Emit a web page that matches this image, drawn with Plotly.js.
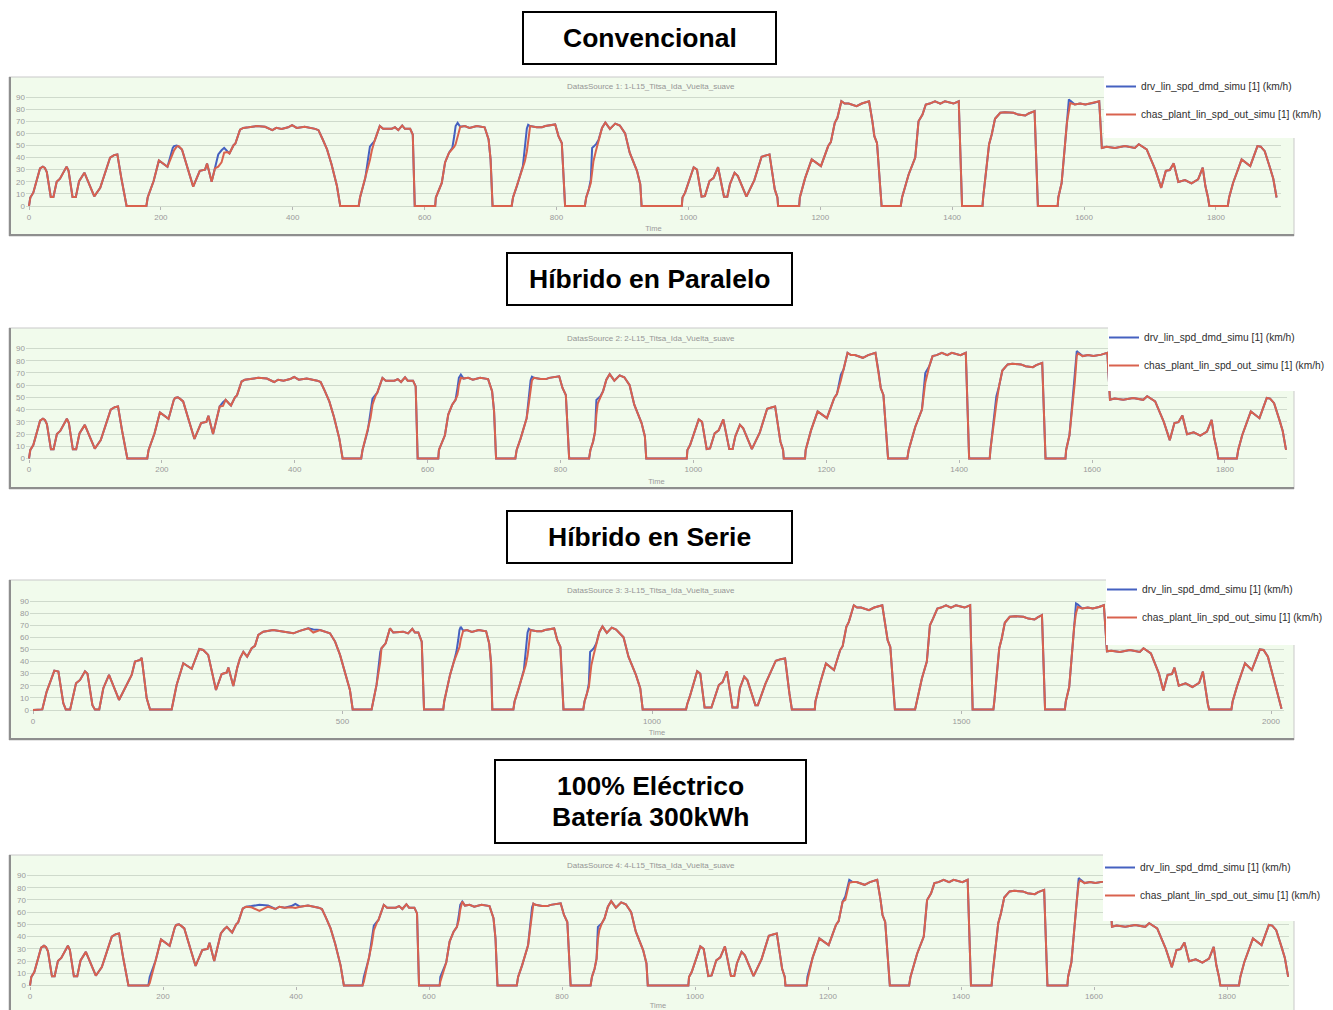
<!DOCTYPE html>
<html><head><meta charset="utf-8">
<script src="https://cdn.plot.ly/plotly-3.0.1.min.js"></script>
<style>html,body{margin:0;padding:0;background:#fff;}#chart{width:1333px;height:1010px;}</style>
</head><body><div id="chart"></div>
<script>
// ---- shared cycle time (s) for panels 1, 2 and 4 ----
const timeS = [0,2,6.5,16.7,21,24,27,33,37,42,47,57,60,66,71,76,84,99,108,123,129,134,140,145,148,178,180,189,197,210,218,220,224,227,232,249,259,267,270,277,282,287,292,296,301,304,310,313,320,325,333,345,358,369,375,383,393,399,406,418,434,439,445,452,459,467,472,500,502,510,514,517,520,522,524,532,537,550,555,560,566,570,578,582,585,616,617,626,631,637,642,645,647,650,654,661,668,679,691,697,700,703,732,734,740,749,752,755,757,760,770,778,783,798,803,808,813,843,845,849,852,854,856,860,864,869,874,881,889,896,904,911,922,927,929,990,991,995,1008,1013,1020,1025,1032,1038,1045,1054,1059,1063,1070,1075,1088,1100,1111,1118,1123,1131,1135,1136,1168,1169,1177,1187,1201,1212,1216,1222,1226,1232,1237,1243,1255,1263,1274,1279,1282,1286,1293,1322,1324,1334,1344,1349,1355,1360,1366,1374,1382,1389,1394,1402,1410,1415,1446,1447,1456,1460,1465,1473,1480,1493,1500,1511,1516,1525,1530,1560,1561,1566,1574,1577,1579,1586,1594,1602,1614,1623,1627,1634,1647,1662,1677,1683,1695,1708,1717,1724,1730,1736,1743,1753,1763,1773,1780,1784,1788,1790,1818,1820,1826,1839,1852,1863,1868,1874,1882,1887,1892];

// driver speed demand (km/h), same cycle in panels 1, 2, 4
const demandS = [0,7,11,31,32.5,31.5,28,7.5,7.5,20,22.5,32.5,29,7.5,7.5,20.5,27.5,8,15,40,42,42.6,23,8,0,0,7,20.6,37.6,32.4,48,49.5,50,49,46.7,16,29,30,35,20,32,42.6,46,48,45,43.4,50,51.6,63,64.5,65,66,65.4,62.6,64.5,63.7,65,66.7,64.5,65.4,63.7,62.6,55.5,46.7,34,16.5,0,0,7,23,38,49,51,52,53.6,66,63.7,63.7,65,62.6,66.5,63.7,63.7,59,0,0,7,19,36,44,48,58,66,68.7,65.4,66,64.5,66,65,55,38.5,0,0,7,16.5,33,52,64,67,66,65,65,66,67.3,57.7,52,0,0,7,13.7,22,48,49,51,55,64.5,69,63.7,68,66.5,60,44,29,18,0,0,7,11,32,30,7.7,8.2,20.6,23,32,7.7,7.7,18,27.5,24.7,7.7,21.4,40.7,42,42.6,13.7,7,0,0,7,23,38.5,33,49.5,52.7,68.7,72.8,86.5,84.6,84.6,82.4,84.6,86.5,70,57.7,52,0,0,7,26,40,70,75.5,83.8,84.6,86.5,84.6,86.5,85.7,84.6,86.5,0,0,7,51,59,72,77,77.5,77,75.5,74.7,76.4,78.3,0,0,7,19,68.7,88,87,83.8,84.6,83.8,85,86.5,48,49,48,49.5,48,51,46.7,30,15,29,29.7,35.2,19.8,21.4,18.7,22,31.6,16.5,7,0,0,7,19,38.5,33,49.5,49,45.3,31.6,22.5,7];

// vehicle speed (km/h) - Convencional
const speedConv = [0,7,11,31,32.5,31.5,28,7.5,7.5,20,22.5,32.5,29,7.5,7.5,20.5,27.5,8,15,40,42,42.6,23,8,0,0,7,20.6,37.6,32.4,44,46,49,49.5,46.7,16,29,30,35,20,31,32.5,36,44,44.5,43.4,50,51.6,63,64.5,65,66,65.4,62.6,64.5,63.7,65,66.7,64.5,65.4,63.7,62.6,55.5,46.7,34,16.5,0,0,7,23,32,38,46,49,53.6,66,63.7,63.7,65,62.6,66.5,63.7,63.7,59,0,0,7,19,36,44,46.7,49,51,58,65.4,66,64.5,66,65,55,38.5,0,0,7,16.5,31,37,45,52,66,65,65,66,67.3,57.7,52,0,0,7,13.7,19,28,37,46,55,64.5,69,63.7,68,66.5,60,44,29,18,0,0,7,11,32,30,7.7,8.2,20.6,23,32,7.7,7.7,18,27.5,24.7,7.7,21.4,40.7,42,42.6,13.7,7,0,0,7,23,38.5,33,49.5,52.7,68.7,72.8,86.5,84.6,84.6,82.4,84.6,86.5,70,57.7,52,0,0,7,26,40,70,75.5,83.8,84.6,86.5,84.6,86.5,85.7,84.6,86.5,0,0,7,51,59,72,77,77.5,77,75.5,74.7,76.4,78.3,0,0,7,19,68.7,80,85,83.8,84.6,83.8,85,86.5,48,49,48,49.5,48,51,46.7,30,15,29,29.7,35.2,19.8,21.4,18.7,22,31.6,16.5,7,0,0,7,19,38.5,33,49.5,49,45.3,31.6,22.5,7];

// vehicle speed (km/h) - Híbrido en Paralelo
const speedParallel = [0,7,11,31,32.5,31.5,28,7.5,7.5,20,22.5,32.5,29,7.5,7.5,20.5,27.5,8,15,40,42,42.6,23,8,0,0,7,20.6,37.6,32.4,48,49.5,50,49,46.7,16,29,30,35,20,32,42.6,43,48,45,43.4,50,51.6,63,64.5,65,66,65.4,62.6,64.5,63.7,65,66.7,64.5,65.4,63.7,62.6,55.5,46.7,34,16.5,0,0,7,23,33,44,50,52,53.6,66,63.7,63.7,65,62.6,66.5,63.7,63.7,59,0,0,7,19,36,44,48,52,60,66,65.4,66,64.5,66,65,55,38.5,0,0,7,16.5,33,44,58,64,66,65,65,66,67.3,57.7,52,0,0,7,13.7,22,36,45,50,55,64.5,69,63.7,68,66.5,60,44,29,18,0,0,7,11,32,30,7.7,8.2,20.6,23,32,7.7,7.7,18,27.5,24.7,7.7,21.4,40.7,42,42.6,13.7,7,0,0,7,23,38.5,33,49.5,52.7,64,72.8,86.5,84.6,84.6,82.4,84.6,86.5,70,57.7,52,0,0,7,26,40,62,75.5,83.8,84.6,86.5,84.6,86.5,85.7,84.6,86.5,0,0,7,45,59,72,77,77.5,77,75.5,74.7,76.4,78.3,0,0,7,19,62,84,86,83.8,84.6,83.8,85,86.5,48,49,48,49.5,48,51,46.7,30,15,29,29.7,35.2,19.8,21.4,18.7,22,31.6,16.5,7,0,0,7,19,38.5,33,49.5,49,45.3,31.6,22.5,7];

// vehicle speed (km/h) - 100% Eléctrico
const speedElectric = [0,7,11,31,32.5,31.5,28,7.5,7.5,20,22.5,32.5,29,7.5,7.5,20.5,27.5,8,15,40,42,42.6,23,8,0,0,2,20.6,37.6,32.4,48,49.5,50,49,46.7,16,29,30,35,20,32,42.6,46,48,45,43.4,50,51.6,63,64.5,64,61,64.5,62.6,64.5,63.7,64,63.5,64.5,65.4,63.7,62.6,55.5,46.7,34,16.5,0,0,3,23,34,45,50,52,53.6,66,63.7,63.7,65,62.6,66.5,63.7,63.7,59,0,0,3,19,36,44,48,54,62,68.7,65.4,66,64.5,66,65,55,38.5,0,0,7,16.5,33,46,58,67,66,65,65,66,67.3,57.7,52,0,0,7,13.7,22,38,45,51,55,64.5,69,63.7,68,66.5,60,44,29,18,0,0,7,11,32,30,7.7,8.2,20.6,23,32,7.7,7.7,18,27.5,24.7,7.7,21.4,40.7,42,42.6,13.7,7,0,0,4,23,38.5,33,49.5,52.7,68.7,70,84,84.6,84.6,82.4,84.6,86.5,70,57.7,52,0,0,7,26,40,70,75.5,83.8,84.6,86.5,84.6,86.5,85.7,84.6,86.5,0,0,7,51,59,72,77,77.5,77,75.5,74.7,76.4,78.3,0,0,7,19,68.7,84,86,83.8,84.6,83.8,85,86.5,48,49,48,49.5,48,51,46.7,30,15,29,29.7,35.2,19.8,21.4,18.7,22,31.6,16.5,7,0,0,7,19,38.5,33,49.5,49,45.3,31.6,22.5,7];

// ---- Híbrido en Serie (own time base) ----
const timeSerie = [0,15,22,34.5,41,49,53,60,69.5,76,84,88,96,100,107,113.6,122.8,139,159.4,164.8,172.9,175.6,183.7,189,224,232,242.8,256.4,268.7,275,283,295.6,304.8,312.9,315.6,323.6,330,334.4,339.8,346,353.3,358.6,364,372,388,410,420.6,431,444.8,452.8,463.7,479.8,488,496,504,512,516.5,547,555,561,563,569.7,576.7,582,598,606,612.8,617,622.5,628,631.7,
  662.8,664.3,673.7,680,684,687,689,691,695,701,709,720,732,737,740,742,
  776,778,784,793,796,799,801,804,814,822,827,842,847,852,857,
  889,891,895,898,900,902,906,910,915,920,927,935,942,954,962,974,981,985,
  1055,1057,1061,1073,1078,1085,1096,1108,1114,1121,1130,1138,1142,1149,1154,1167,1171,1183,1200,1208,1215,1222,1225,1226,
  1263,1264,1272,1281,1294,1304,1308,1314,1318,1326,1331.3,1337.7,1350.5,1359,1372,1377.5,1380.7,1385,1392.4,
  1425,1427.5,1436,1444,1449,1454,1461,1467,1475,1483,1491,1497,1505,1514,1518,
  1551.5,1553,1561,1565,1570,1578,1586,1600,1608,1618,1623,1630,1635,
  1667,1668.5,1674,1682,1685,1688,1695,1704,1712,1722,1730,
  1735,1742,1756,1772,1788,1794,1806,1819,1826,1833,1840,1844,1851,1862,1873,1884,1890,1894,1898,1900,
  1936,1938,1945,1958,1969,1982,1988,1995,2006,2012,2017];
const demandSerie = [0,0.5,15,32.5,31.7,5.5,0.5,0.5,22,24.8,32,30,4,0.5,0.5,18,29,8.3,29,40,41.3,43,9.6,0.5,0.5,20.7,38.6,34,50.4,49.6,45.5,16.5,29.7,30.9,35,19.8,35,42.7,48,44,51,53,62,64.7,66,64,63.3,65.3,67.5,66.5,66,63.3,56.5,45.5,31.7,16.5,0.5,0.5,20.7,48,51,55,67.5,64,64.7,63.3,67,64,64,56.5,0.5,
  0.5,7,29,40,48,58,66,68.7,65.4,66,64.5,66,65,55,38.5,0.5,
  0.5,7,16.5,33,52,64,67,66,65,65,66,67.3,57.7,52,0.5,
  0.5,7,13.7,22,48,49,51,55,64.5,69,63.7,68,66.5,60,44,29,18,0.5,
  0.5,5,11,32,30,2,2,20.6,23,32,2,2,18,27.5,24.7,4,4,21.4,40.7,42,42.6,13.7,5,0.5,
  0.5,7,23,38.5,33,49.5,52.7,68.7,72.8,86.5,84.6,84.6,82.4,84.6,86.5,70,57.7,52,0.5,
  0.5,7,26,40,70,75.5,83.8,84.6,86.5,84.6,86.5,85.7,84.6,86.5,0.5,
  0.5,7,51,59,72,77,77.5,77,75.5,74.7,76.4,78.3,0.5,
  0.5,7,19,68.7,88,87,83.8,84.6,83.8,85,86.5,
  48.5,49,48,49.5,48,51,46.7,30,16,29,29.7,35,20,22,19,22.5,31.7,16,5,0.5,
  0.5,7,19.3,38.6,33,50,49.6,44,22,10,1];
const speedSerie = [0,0.5,15,32.5,31.7,5.5,0.5,0.5,22,24.8,32,30,4,0.5,0.5,18,29,8.3,29,40,41.3,43,9.6,0.5,0.5,20.7,38.6,34,50.4,49.6,45.5,16.5,29.7,30.9,35,19.8,35,42.7,48,44,51,53,62,64.7,66,64,63.3,65.3,67.5,64,66,63.3,56.5,45.5,31.7,16.5,0.5,0.5,20.7,40,51,55,67.5,64,64.7,63.3,67,64,64,56.5,0.5,
  0.5,7,29,40,46,49,52,58,65.4,66,64.5,66,65,55,38.5,0.5,
  0.5,7,16.5,31,37,45,52,66,65,65,66,67.3,57.7,52,0.5,
  0.5,7,13.7,19,28,37,46,55,64.5,69,63.7,68,66.5,60,44,29,18,0.5,
  0.5,5,11,32,30,2,2,20.6,23,32,2,2,18,27.5,24.7,4,4,21.4,40.7,42,42.6,13.7,5,0.5,
  0.5,7,23,38.5,33,49.5,52.7,68.7,72.8,86.5,84.6,84.6,82.4,84.6,86.5,70,57.7,52,0.5,
  0.5,7,26,40,70,75.5,83.8,84.6,86.5,84.6,86.5,85.7,84.6,86.5,0.5,
  0.5,7,51,59,72,77,77.5,77,75.5,74.7,76.4,78.3,0.5,
  0.5,7,19,68.7,80,85,83.8,84.6,83.8,85,86.5,
  48.5,49,48,49.5,48,51,46.7,30,16,29,29.7,35,20,22,19,22.5,31.7,16,5,0.5,
  0.5,7,19.3,38.6,33,50,49.6,44,22,10,1];

// ---- texts ----
const panelTitles = [['Convencional'], ['Híbrido en Paralelo'], ['Híbrido en Serie'], ['100% Eléctrico', 'Batería 300kWh']];
const sourceLabels = ['DatasSource 1: 1-L15_Titsa_Ida_Vuelta_suave', 'DatasSource 2: 2-L15_Titsa_Ida_Vuelta_suave', 'DatasSource 3: 3-L15_Titsa_Ida_Vuelta_suave', 'DatasSource 4: 4-L15_Titsa_Ida_Vuelta_suave'];
const seriesNames = ['drv_lin_spd_dmd_simu [1] (km/h)', 'chas_plant_lin_spd_out_simu [1] (km/h)'];
const xTickStep = [200, 200, 500, 200];
const xTitle = 'Time';

const panelData = [
  {t: timeS, dmd: demandS, out: speedConv},
  {t: timeS, dmd: demandS, out: speedParallel},
  {t: timeSerie, dmd: demandSerie, out: speedSerie},
  {t: timeS, dmd: demandS, out: speedElectric}
];

// ---- geometry (pixels) ----
const W = 1333, H = 1010;
const geo = [
  {frame:[9,77,1294,236], box:[523,12,776,64], x0:29, xs:0.6594, pl:26, pr:1281, y0:206, ys:1.211, pt:92, pb:210, src:87, leg:[1101,72], legBox:[1104,72,1333,138]},
  {frame:[9,328,1294,489], box:[507,253,792,305], x0:29, xs:0.6644, pl:26, pr:1287, y0:458.5, ys:1.222, pt:343, pb:462, src:338, leg:[1104,323], legBox:[1108,322,1333,391]},
  {frame:[9,580,1294,740], box:[507,511,792,563], x0:33, xs:0.619, pl:30, pr:1284, y0:710, ys:1.211, pt:596, pb:713, src:590, leg:[1102,575], legBox:[1106,575,1333,645]},
  {frame:[9,855,1294,1016], box:[495,760,806,843], x0:30, xs:0.665, pl:27, pr:1289, y0:985.5, ys:1.222, pt:870, pb:989, src:865, leg:[1100,853], legBox:[1103,853,1333,921]}
];
const px = v => v / W;
const py = v => 1 - v / H;

const BLUE = '#4561c0', RED = '#d9624e', BG = '#f1fbec', GRID = '#cfdacc', TICK = '#9a9a9a';
const FONT = 'Liberation Sans, Arial, sans-serif';

const traces = [];
const layout = {
  width: W, height: H, margin: {l:0, r:0, t:0, b:0, autoexpand: false},
  paper_bgcolor: '#ffffff', plot_bgcolor: 'rgba(0,0,0,0)',
  font: {family: FONT},
  showlegend: true, shapes: [], annotations: []
};

geo.forEach((g, i) => {
  const n = i === 0 ? '' : String(i + 1);
  const d = panelData[i];
  const legKey = 'legend' + n;
  traces.push({x: d.t, y: d.dmd, xaxis: 'x' + n, yaxis: 'y' + n, type: 'scatter', mode: 'lines',
    name: seriesNames[0], legend: legKey, legendgroup: 'dmd' + i, line: {color: BLUE, width: 2}, hoverinfo: 'skip'});
  traces.push({x: d.t, y: d.out, xaxis: 'x' + n, yaxis: 'y' + n, type: 'scatter', mode: 'lines',
    name: seriesNames[1], legend: legKey, legendgroup: 'out' + i, line: {color: RED, width: 2}, hoverinfo: 'skip'});

  layout['xaxis' + n] = {
    domain: [px(g.pl), px(g.pr)], range: [(g.pl - g.x0) / g.xs, (g.pr - g.x0) / g.xs],
    anchor: 'free', position: py(g.y0), showgrid: false, zeroline: false, showline: false,
    tick0: 0, dtick: xTickStep[i], ticks: 'outside', ticklen: 3, tickcolor: '#b5b5b5',
    tickfont: {size: 8, color: TICK},
    title: {text: xTitle, font: {size: 7.5, color: TICK}, standoff: 5}
  };
  layout['yaxis' + n] = {
    domain: [py(g.pb), py(g.pt)], range: [(g.y0 - g.pb) / g.ys, (g.y0 - g.pt) / g.ys],
    anchor: 'x' + n, tick0: 0, dtick: 10, showgrid: true, gridcolor: GRID, gridwidth: 1,
    zeroline: false, showline: false, ticks: '', tickfont: {size: 8, color: TICK}
  };
  layout[legKey] = {
    x: px(g.leg[0]), y: py(g.leg[1]), xanchor: 'left', yanchor: 'top',
    bgcolor: 'rgba(255,255,255,0)', borderwidth: 0, font: {size: 10.2, color: '#2e2e2e'},
    tracegroupgap: 9, traceorder: 'grouped'
  };

  const f = g.frame;
  layout.shapes.push({type:'rect', xref:'paper', yref:'paper', x0:px(f[0]), x1:px(f[2]), y0:py(f[3]), y1:py(f[1]),
    fillcolor: BG, line:{color:'#c9c9c9', width:1}, layer:'below'});
  layout.shapes.push({type:'line', xref:'paper', yref:'paper', x0:px(f[0]+1), x1:px(f[0]+1), y0:py(f[3]), y1:py(f[1]),
    line:{color:'#8e8e8e', width:2}, layer:'below'});
  layout.shapes.push({type:'line', xref:'paper', yref:'paper', x0:px(f[0]), x1:px(f[2]), y0:py(f[3]-1), y1:py(f[3]-1),
    line:{color:'#8e8e8e', width:2}, layer:'below'});
  const lb = g.legBox;
  layout.shapes.push({type:'rect', xref:'paper', yref:'paper', x0:px(lb[0]), x1:px(lb[2]), y0:py(lb[3]), y1:py(lb[1]),
    fillcolor:'#ffffff', line:{width:0}, layer:'above'});
  const b = g.box;
  layout.shapes.push({type:'rect', xref:'paper', yref:'paper', x0:px(b[0]), x1:px(b[2]), y0:py(b[3]), y1:py(b[1]),
    fillcolor:'#ffffff', line:{color:'#000000', width:2}, layer:'above'});
  const lines = panelTitles[i];
  const cy = (b[1] + b[3]) / 2;
  lines.forEach((txt, k) => {
    const yc = cy + (k - (lines.length - 1) / 2) * 31;
    layout.annotations.push({xref:'paper', yref:'paper', x:px((b[0]+b[2])/2), y:py(yc),
      xanchor:'center', yanchor:'middle', showarrow:false, text:'<b>' + txt + '</b>',
      font:{size:26.5, color:'#000000', family:FONT}});
  });
  layout.annotations.push({xref:'paper', yref:'paper', x:px(651), y:py(g.src), xanchor:'center', yanchor:'middle',
    showarrow:false, text: sourceLabels[i], font:{size:8, color:'#959595'}});
});

Plotly.newPlot('chart', traces, layout, {displayModeBar:false, staticPlot:true});
</script>
</body></html>
